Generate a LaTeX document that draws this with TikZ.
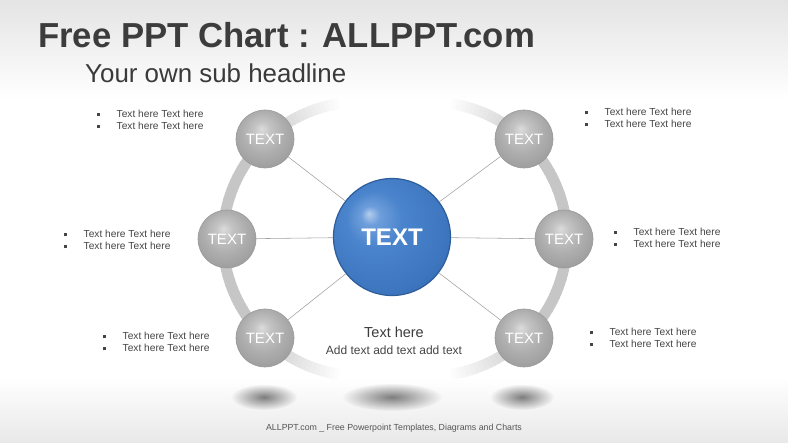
\documentclass[tikz,border=0pt]{standalone}
\usepackage{fontspec}
\setmainfont{Liberation Sans}
\usetikzlibrary{fadings}
\definecolor{titlec}{HTML}{3C3C3C}
\definecolor{subc}{HTML}{3A3A3A}
\definecolor{txtc}{HTML}{454545}
\definecolor{footc}{HTML}{555555}
\definecolor{ringc}{HTML}{C6C6C6}
\definecolor{linec}{HTML}{A0A0A0}
\definecolor{bgtop}{HTML}{E4E4E4}
\definecolor{bgbot}{HTML}{E8E8E8}
\definecolor{gsA}{HTML}{DCDCDC}
\definecolor{gsB}{HTML}{C4C4C4}
\definecolor{gsC}{HTML}{AEAEAE}
\definecolor{gsD}{HTML}{9E9E9E}
\definecolor{gsE}{HTML}{8C8C8C}
\definecolor{grim}{HTML}{9A9A9A}
\definecolor{bsA}{HTML}{B4CDEE}
\definecolor{bsB}{HTML}{6E9EDB}
\definecolor{bsC}{HTML}{4A84CC}
\definecolor{bsD}{HTML}{3D76BE}
\definecolor{bsE}{HTML}{2F62A6}
\definecolor{brim}{HTML}{2D5C9B}
\definecolor{shadc}{HTML}{5E5E5E}
\pgfdeclareradialshading{graysphere}{\pgfpoint{-3bp}{9bp}}{color(0bp)=(gsA); color(7bp)=(gsB); color(18bp)=(gsC); color(29bp)=(gsD); color(34bp)=(gsE); color(50bp)=(gsE)}
\pgfdeclareradialshading{bluesphere}{\pgfpoint{-10bp}{10bp}}{color(0bp)=(bsA); color(4bp)=(bsB); color(12bp)=(bsC); color(28bp)=(bsD); color(39bp)=(bsE); color(50bp)=(bsE)}
\tikzfading[name=shadowfade, inner color=transparent!20, outer color=transparent!100]
\newcommand\sqbul{\makebox[19.5pt][l]{\raisebox{1.3pt}{\rule{3pt}{3pt}}}}
\begin{document}
\begin{tikzpicture}[x=1pt,y=-1pt,
  smallball/.style={circle, minimum size=58pt, inner sep=0pt, shading=graysphere, draw=grim, line width=0.6pt, text=white, font=\fontsize{15}{15}\selectfont},
  bigball/.style={circle, minimum size=117pt, inner sep=0pt, shading=bluesphere, draw=brim, line width=1.2pt, text=white, font=\bfseries\fontsize{24}{24}\selectfont},
  link/.style={draw=linec, line width=0.55pt},
  bullist/.style={anchor=west, align=left, inner sep=0pt, text=txtc, font=\fontsize{10.2}{12}\selectfont},
  shadowblob/.style={fill=shadc, path fading=shadowfade}]
\useasboundingbox (0,0) rectangle (788,443);
% background
\fill[top color=bgtop, bottom color=white] (0,0) rectangle (788,99);
\fill[white] (0,98) rectangle (788,379);
\fill[top color=white, bottom color=bgbot] (0,378) rectangle (788,443);
% ring: left arc
\foreach \t in {97,99,...,261}{
  \pgfmathsetmacro{\te}{\t+2.5}
  \pgfmathsetmacro{\fr}{100*min(1,max(0,min((\t-97)/38,(261-\t)/38)))}
  \draw[line width=11pt, ringc!\fr!white] ({360+137*cos(\t)},{239-137*sin(\t)}) -- ({360+137*cos(\te)},{239-137*sin(\te)});
}
% ring: right arc
\foreach \t in {-83,-81,...,81}{
  \pgfmathsetmacro{\te}{\t+2.5}
  \pgfmathsetmacro{\fr}{100*min(1,max(0,min((\t+83)/38,(81-\t)/38)))}
  \draw[line width=11pt, ringc!\fr!white] ({430+137*cos(\t)},{239-137*sin(\t)}) -- ({430+137*cos(\te)},{239-137*sin(\te)});
}
% spheres
\node[bigball] (c) at (392,237) {TEXT};
\node[smallball] (s1) at (265,139) {TEXT};
\node[smallball] (s2) at (227,239) {TEXT};
\node[smallball] (s3) at (265,338) {TEXT};
\node[smallball] (s4) at (524,139) {TEXT};
\node[smallball] (s5) at (564,239) {TEXT};
\node[smallball] (s6) at (524,338) {TEXT};
\foreach \s in {s1,s2,s3,s4,s5,s6}{\draw[link] (c) -- (\s);}
% shadows
\fill[shadowblob] (264,397) ellipse [x radius=33, y radius=13];
\fill[shadowblob] (392,397) ellipse [x radius=50, y radius=14];
\fill[shadowblob] (522,397) ellipse [x radius=32, y radius=13];
% titles
\node[anchor=base west, inner sep=0pt, text=titlec, font=\bfseries\fontsize{34.7}{34.7}\selectfont] (title) at (38,48) {Free PPT Chart : ALLPPT.com};
\node[anchor=base west, inner sep=0pt, text=subc, font=\fontsize{25.9}{25.9}\selectfont] (sub) at (85,83) {Your own sub headline};
% centre texts
\node[anchor=base, inner sep=0pt, text=titlec, font=\fontsize{14.5}{14.5}\selectfont] (th) at (394,338) {Text here};
\node[anchor=base, inner sep=0pt, text=txtc, font=\fontsize{12}{12}\selectfont] (ad) at (394,355) {Add text add text add text};
% bullet lists
\node[bullist] (l1) at (97,120) {\sqbul Text here Text here\\\sqbul Text here Text here};
\node[bullist] (l2) at (64,240) {\sqbul Text here Text here\\\sqbul Text here Text here};
\node[bullist] (l3) at (103,342) {\sqbul Text here Text here\\\sqbul Text here Text here};
\node[bullist] (r1) at (585,118) {\sqbul Text here Text here\\\sqbul Text here Text here};
\node[bullist] (r2) at (614,237.5) {\sqbul Text here Text here\\\sqbul Text here Text here};
\node[bullist] (r3) at (590,338) {\sqbul Text here Text here\\\sqbul Text here Text here};
% footer
\node[anchor=base, inner sep=0pt, text=footc, font=\fontsize{8.8}{8.8}\selectfont] (foot) at (394,431) {ALLPPT.com \_ Free Powerpoint Templates, Diagrams and Charts};
\end{tikzpicture}
\end{document}
